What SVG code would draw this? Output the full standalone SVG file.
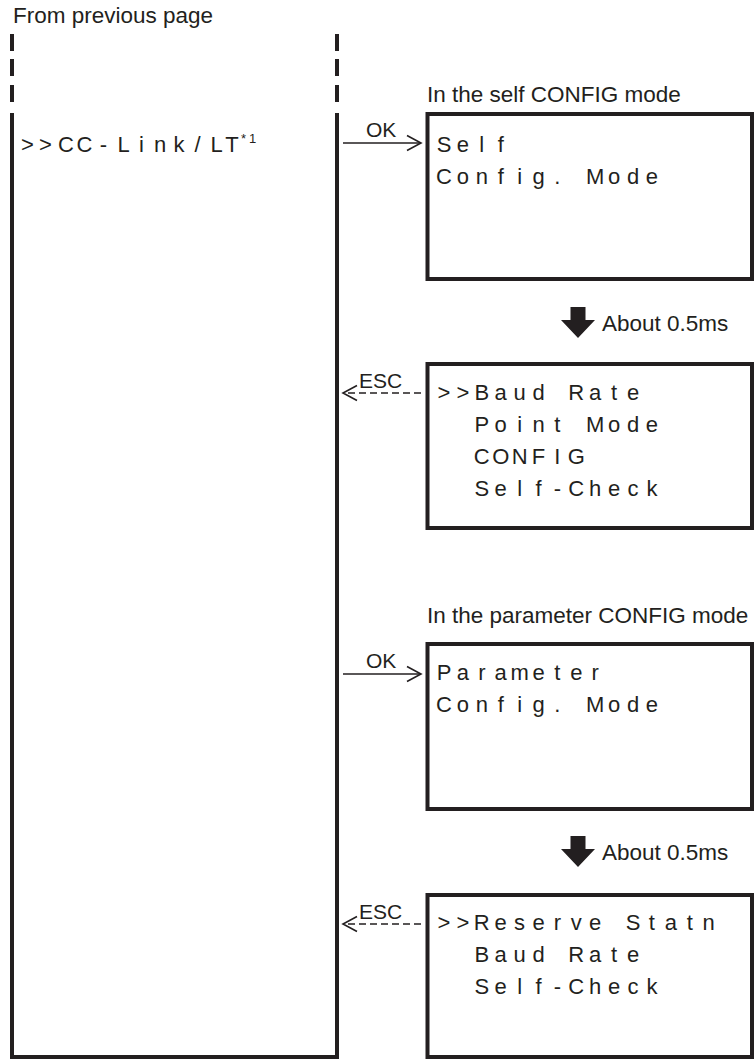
<svg xmlns="http://www.w3.org/2000/svg" width="754" height="1059" viewBox="0 0 754 1059">
<style>
.lbl{font-family:"Liberation Sans",Arial,sans-serif;font-size:22.5px;fill:#231f20}
.key{font-family:"Liberation Sans",Arial,sans-serif;font-size:21px;fill:#231f20}
.lcd{font-family:"Liberation Sans",Arial,sans-serif;font-size:22px;fill:#231f20;text-anchor:middle}
.sup{font-family:"Liberation Sans",Arial,sans-serif;font-size:13px;fill:#231f20}
.box{fill:none;stroke:#231f20;stroke-width:4}
.edge{fill:none;stroke:#231f20;stroke-width:4}
.conn{fill:none;stroke:#231f20;stroke-width:1.6}
.dash{stroke-dasharray:7 4}
.thick{fill:#231f20;stroke:none}
</style>
<defs>
<marker id="chev" markerUnits="userSpaceOnUse" markerWidth="18" markerHeight="18" refX="15" refY="8" orient="auto" overflow="visible">
<path d="M1,0.5 L15,8 L1,15.5" fill="none" stroke="#231f20" stroke-width="1.6" stroke-dasharray="none"/>
</marker>
</defs>

<text class="lbl" x="13" y="23">From previous page</text>

<g id="node-cclink">
<path class="edge" d="M12,34 V51 M12,59 V76 M12,85 V102 M337,34 V51 M337,59 V76 M337,85 V102"/>
<path class="edge" d="M12,113 V1057 H337 V113"/>
<text class="lcd" x="27.5 45.5 66 84.5 103.5 123.5 141.5 160 179 197.5 216.5 232" y="152">&gt;&gt;CC-Link/LT</text>
<text class="sup" x="241" y="143">*</text>
<text class="sup" x="249" y="143">1</text>
</g>

<g id="node-self-config">
<text class="lbl" x="427" y="102">In the self CONFIG mode</text>
<rect class="box" x="427.5" y="114" width="324.5" height="165"/>
<text class="lcd" x="444 462.9 481.8 500.7" y="152">Self</text>
<text class="lcd" x="444 462.9 481.8 500.7 519.6 538.5 557.4 576.3 595.2 614.1 633 651.9" y="184">Config. Mode</text>
</g>

<g id="node-self-menu">
<rect class="box" x="427.5" y="364" width="324.5" height="164"/>
<text class="lcd" x="444 462.9 481.8 500.7 519.6 538.5 557.4 576.3 595.2 614.1 633" y="400">&gt;&gt;Baud Rate</text>
<text class="lcd" x="481.8 500.7 519.6 538.5 557.4 576.3 595.2 614.1 633 651.9" y="432">Point Mode</text>
<text class="lcd" x="481.8 500.7 519.6 538.5 557.4 576.3" y="464">CONFIG</text>
<text class="lcd" x="481.8 500.7 519.6 538.5 557.4 576.3 595.2 614.1 633 651.9" y="496">Self-Check</text>
</g>

<g id="node-param-config">
<text class="lbl" x="427" y="623">In the parameter CONFIG mode</text>
<rect class="box" x="427.5" y="644" width="324.5" height="165"/>
<text class="lcd" x="444 462.9 481.8 500.7 519.6 538.5 557.4 576.3 595.2" y="680">Parameter</text>
<text class="lcd" x="444 462.9 481.8 500.7 519.6 538.5 557.4 576.3 595.2 614.1 633 651.9" y="712">Config. Mode</text>
</g>

<g id="node-param-menu">
<rect class="box" x="427.5" y="895" width="324.5" height="162"/>
<text class="lcd" x="444 462.9 481.8 500.7 519.6 538.5 557.4 576.3 595.2 614.1 633 651.9 670.8 689.7 708.6" y="930">&gt;&gt;Reserve Statn</text>
<text class="lcd" x="481.8 500.7 519.6 538.5 557.4 576.3 595.2 614.1 633" y="962">Baud Rate</text>
<text class="lcd" x="481.8 500.7 519.6 538.5 557.4 576.3 595.2 614.1 633 651.9" y="994">Self-Check</text>
</g>

<g id="connectors">
<line class="conn" x1="343" y1="143" x2="421" y2="143" marker-end="url(#chev)"/>
<text class="key" x="366" y="137">OK</text>
<line class="conn dash" x1="421" y1="393" x2="343" y2="393" marker-end="url(#chev)"/>
<text class="key" x="359" y="388">ESC</text>
<polygon class="thick" points="570.5,307 585.5,307 585.5,320 595,320 578,338 561,320 570.5,320"/>
<text class="lbl" x="602" y="331">About 0.5ms</text>

<line class="conn" x1="343" y1="674" x2="421" y2="674" marker-end="url(#chev)"/>
<text class="key" x="366" y="668">OK</text>
<line class="conn dash" x1="421" y1="924" x2="343" y2="924" marker-end="url(#chev)"/>
<text class="key" x="359" y="919">ESC</text>
<polygon class="thick" points="570.5,836 585.5,836 585.5,849 595,849 578,867 561,849 570.5,849"/>
<text class="lbl" x="602" y="860">About 0.5ms</text>
</g>
</svg>
